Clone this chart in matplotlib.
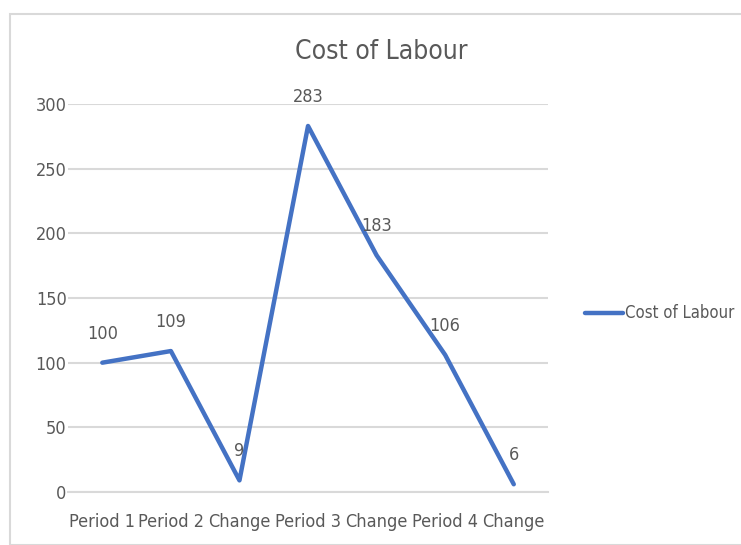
import matplotlib.pyplot as plt
from matplotlib.patches import Rectangle

categories = ['Period 1', 'Period 2', 'Change', 'Period 3', 'Change', 'Period 4', 'Change']
values = [100, 109, 9, 283, 183, 106, 6]
yticks = [0, 50, 100, 150, 200, 250, 300]

plt.rcParams['font.family'] = ['DejaVu Sans']
plt.rcParams['font.stretch'] = 'condensed'
txt = '#595959'
blue = '#4472C4'
grid = '#D9D9D9'

fig = plt.figure(figsize=(7.41, 5.45), dpi=100)
ax = fig.add_axes([0.0918, 0.0972, 0.6478, 0.712])

x = list(range(len(values)))
ax.plot(x, values, color=blue, lw=3.2, solid_joinstyle='round', solid_capstyle='round',
        label='Cost of Labour')
for xi, v in zip(x, values):
    ax.annotate(str(v), (xi, v), xytext=(0, 21), textcoords='offset points',
                ha='center', va='center', fontsize=13, color=txt)

ax.set_xlim(-0.5, len(values) - 0.5)
ax.set_ylim(0, 300)
ax.set_yticks(yticks)
ax.set_xticks(x)
ax.set_xticklabels(categories)
ax.yaxis.grid(True, color=grid, lw=1.5)
ax.set_axisbelow(True)
for s in ['left', 'right', 'top']:
    ax.spines[s].set_visible(False)
ax.spines['bottom'].set_color(grid)
ax.spines['bottom'].set_linewidth(1.5)
ax.tick_params(axis='both', length=0, labelsize=13, labelcolor=txt)
ax.tick_params(axis='y', pad=1)
ax.tick_params(axis='x', pad=15)

fig.text(0.515, 0.904, 'Cost of Labour', ha='center', va='center', fontsize=19, color=txt)

leg = ax.legend(loc='center left', bbox_to_anchor=(0.78, 0.425), bbox_transform=fig.transFigure,
                frameon=False, fontsize=12, handlelength=2.3, handletextpad=0.1, borderaxespad=0)
for t in leg.get_texts():
    t.set_color(txt)

fig.patches.append(Rectangle((10 / 741, 0), 1.0, 1 - 14 / 545, transform=fig.transFigure,
                             fill=False, edgecolor='#D9D9D9', lw=1.5))

fig.savefig('out.png', dpi=100)
